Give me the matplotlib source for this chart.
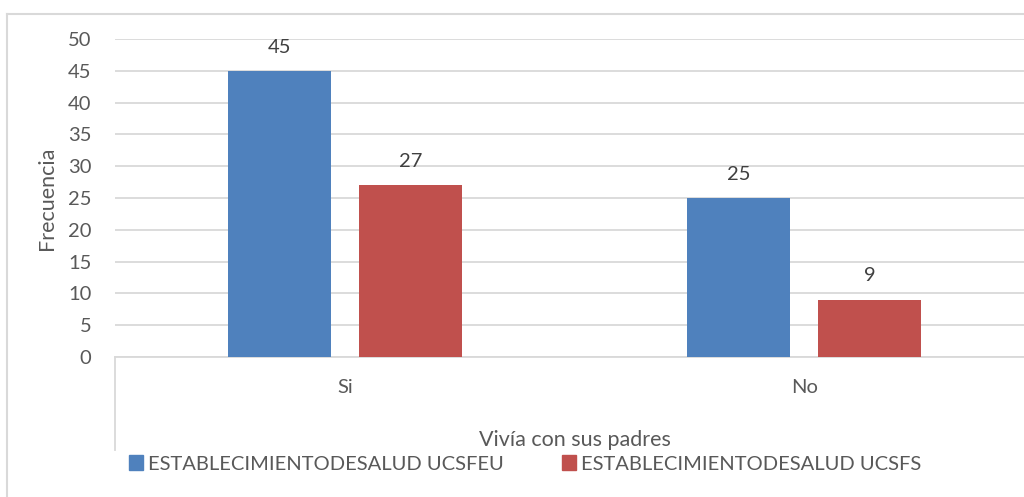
import numpy as np
import matplotlib.pyplot as plt
from matplotlib.lines import Line2D
from matplotlib.patches import Patch

categorias = ["Si", "No"]
series = ["ESTABLECIMIENTODESALUD UCSFEU", "ESTABLECIMIENTODESALUD UCSFS"]
ucsfeu = [45, 25]
ucsfs = [27, 9]
colores = ["#4F81BD", "#C0504D"]

plt.rcParams['font.family'] = ['Lato', 'DejaVu Sans']
gris_texto = "#595959"
gris_linea = "#D9D9D9"

fig = plt.figure(figsize=(10.24, 4.97), dpi=100)
# plot area runs past the right edge, like the cropped original
ax = fig.add_axes([115 / 1024, 140 / 497, 919 / 1024, 318 / 497])

x = np.arange(len(categorias))
ancho = 0.224
desp = 0.1425
for vals, col, dx, nombre in zip([ucsfeu, ucsfs], colores, [-desp, desp], series):
    barras = ax.bar(x + dx, vals, ancho, color=col, label=nombre, zorder=3)
    for b, v in zip(barras, vals):
        ax.annotate(str(v), (b.get_x() + b.get_width() / 2, v), xytext=(0, 11),
                    textcoords="offset points", ha="center", va="bottom",
                    fontsize=14.5, color="#404040")

ax.set_xlim(-0.5, 1.5)
ax.set_ylim(0, 50)
ax.set_yticks(np.arange(0, 51, 5))
ax.yaxis.grid(True, color=gris_linea, linewidth=1.3, zorder=0)
ax.set_axisbelow(True)
for s in ["top", "right", "left"]:
    ax.spines[s].set_visible(False)
ax.spines["bottom"].set_color(gris_linea)
ax.spines["bottom"].set_linewidth(1.3)
ax.tick_params(axis="y", length=0, pad=17, labelsize=14.5, labelcolor=gris_texto)
ax.tick_params(axis="x", length=0, pad=16, labelsize=14.5, labelcolor=gris_texto)
ax.set_xticks(x)
ax.set_xticklabels(categorias)

ax.set_ylabel("Frecuencia", fontsize=15.5, color=gris_texto, labelpad=8)
ax.set_xlabel("Vivía con sus padres", fontsize=15.5, color=gris_texto, labelpad=24)

# category separator below the axis
ax.plot([0, 0], [0, -0.292], transform=ax.transAxes, color=gris_linea,
        linewidth=1.3, clip_on=False)

handles = [Patch(color=c) for c in colores]
fig.legend(handles, series, loc="center left", bbox_to_anchor=(129 / 1024, 33 / 497),
           ncol=2, frameon=False, fontsize=14.5, labelcolor=gris_texto,
           borderpad=0, borderaxespad=0,
           handlelength=0.7, handleheight=0.7, handletextpad=0.25, columnspacing=2.9)

# outer chart border (cropped on right and bottom)
fig.add_artist(Line2D([7 / 1024, 1.0], [1 - 14 / 497, 1 - 14 / 497], color=gris_linea, linewidth=1.5))
fig.add_artist(Line2D([7 / 1024, 7 / 1024], [0, 1 - 14 / 497], color=gris_linea, linewidth=1.5))

fig.savefig("out.png", dpi=100, facecolor="white")
